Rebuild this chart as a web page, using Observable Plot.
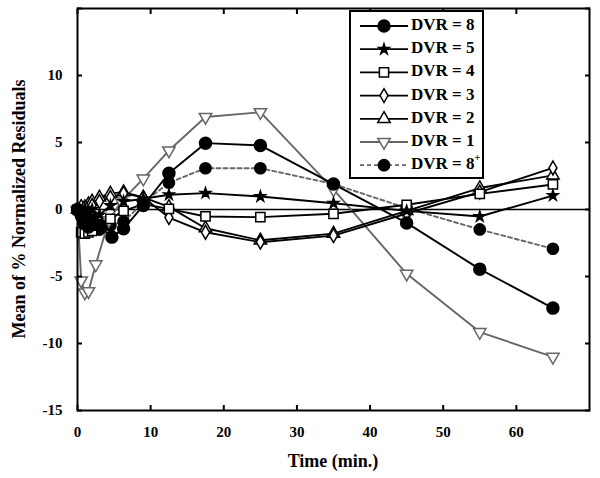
<!DOCTYPE html>
<html><head><meta charset="utf-8">
<script src="https://cdn.jsdelivr.net/npm/d3@7"></script>
<script src="https://cdn.jsdelivr.net/npm/@observablehq/plot@0.6"></script>
<style>body{margin:0;background:#fff;} #chart{width:600px;height:478px;}</style>
</head><body><div id="chart"></div>
<script>
// Data
const time8  = [0,0.5,1,1.5,2,3,4.7,6.3,9,12.5,17.5,25,35,45,55,65];
const dvr8   = [0,-0.4,-1.0,-1.3,-0.8,-1.2,-2.06,-1.44,0.3,2.7,4.95,4.78,1.9,-1.0,-4.45,-7.36];
const timeStd= [0,0.5,1,1.5,2,3,4.5,6.3,9,12.5,17.5,25,35,45,55,65];
const dvr5   = [0,-0.2,0.1,-0.3,0,-0.4,0.3,0.6,0.8,1.1,1.22,0.97,0.47,-0.1,-0.52,1.04];
const dvr4   = [0,-1.7,-1.8,-1.7,-1.6,-1.2,-0.7,-0.1,0.4,0.05,-0.52,-0.57,-0.32,0.35,1.17,1.87];
const dvr3   = [0,-0.3,0.2,-0.5,0.3,0.6,0.9,1.2,0.9,-0.6,-1.7,-2.44,-1.95,-0.3,1.3,3.1];
const dvr2   = [0,0.2,-0.3,0.4,0.6,0.9,1.2,1.3,0.9,0.2,-1.4,-2.3,-1.8,-0.1,1.6,2.55];
const time1  = [0,0.5,1,1.5,2.5,4.3,6,9,12.5,17.5,25,35,45,55,65];
const dvr1   = [0,-5.3,-6.2,-6.1,-4.1,-0.8,0.6,2.3,4.4,6.9,7.26,1.5,-4.8,-9.15,-11.0];
const time8p = [0,0.5,1,1.5,2,3,4.5,6.3,9,12.5,17.5,25,35,45,55,65];
const dvr8p  = [0,-0.5,-0.8,-1.1,-1.0,-1.5,-1.2,-0.9,0.5,2.0,3.08,3.08,1.9,0.1,-1.49,-2.93];

const xTicks = [0,10,20,30,40,50,60];
const yTicks = [-15,-10,-5,0,5,10];
const yTickMarks = [-15,-10,-5,0,5,10,15];

const seriesDefs = [
  {name:"DVR = 8",  sup:"",  t:time8,  v:dvr8,  symbol:"circle",   rotate:0,   fill:"black", stroke:"black", line:"black", dash:null, r:6},
  {name:"DVR = 5",  sup:"",  t:timeStd,v:dvr5,  symbol:"star",     rotate:0,   fill:"black", stroke:"black", line:"black", dash:null, r:3.3},
  {name:"DVR = 4",  sup:"",  t:timeStd,v:dvr4,  symbol:"square",   rotate:0,   fill:"white", stroke:"black", line:"black", dash:null, r:5.2},
  {name:"DVR = 3",  sup:"",  t:timeStd,v:dvr3,  symbol:"diamond",  rotate:0,   fill:"white", stroke:"black", line:"black", dash:null, r:4.2},
  {name:"DVR = 2",  sup:"",  t:timeStd,v:dvr2,  symbol:"triangle", rotate:0,   fill:"white", stroke:"black", line:"black", dash:null, r:4.6},
  {name:"DVR = 1",  sup:"",  t:time1,  v:dvr1,  symbol:"triangle", rotate:180, fill:"white", stroke:"#666", line:"#666", dash:null, r:4.6},
  {name:"DVR = 8",  sup:"+", t:time8p, v:dvr8p, symbol:"circle",   rotate:0,   fill:"black", stroke:"black", line:"#666", dash:"4,3", r:5.6}
];

const rowsOf = s => s.t.map((t,i)=>({time:t, value:s.v[i]}));

const font = "'Liberation Serif', 'Times New Roman', serif";
const marks = [
  Plot.ruleY([0], {stroke:"black", strokeWidth:1.6})
];
[...seriesDefs].reverse().forEach(s => {
  marks.push(Plot.line(rowsOf(s), {x:"time", y:"value", stroke:s.line, strokeWidth:1.9, strokeDasharray:s.dash}));
});
[...seriesDefs].reverse().forEach(s => {
  marks.push(Plot.dot(rowsOf(s), {x:"time", y:"value", symbol:s.symbol, r:s.r, rotate:s.rotate, fill:s.fill, stroke:s.stroke, strokeWidth:1.5}));
});
marks.push(
  Plot.frame({stroke:"black", strokeWidth:2}),
  Plot.axisX({anchor:"bottom", ticks:xTicks, tickSize:0, tickPadding:16, tickFormat:d=>d, fontSize:15, fontWeight:"bold", label:null}),
  Plot.axisX({anchor:"bottom", ticks:xTicks, tickSize:-5, tickFormat:()=>"", label:null, strokeWidth:2}),
  Plot.axisX({anchor:"top", ticks:xTicks, tickSize:-5, tickFormat:()=>"", label:null, strokeWidth:2}),
  Plot.axisY({anchor:"left", ticks:yTicks, tickSize:0, tickPadding:15, tickFormat:d=>d, fontSize:15, fontWeight:"bold", label:null}),
  Plot.axisY({anchor:"left", ticks:yTickMarks, tickSize:-5, tickFormat:()=>"", label:null, strokeWidth:2}),
  Plot.axisY({anchor:"right", ticks:yTickMarks, tickSize:-5, tickFormat:()=>"", label:null, strokeWidth:2})
);

const chart = Plot.plot({
  width:600, height:478,
  marginLeft:77, marginRight:11, marginTop:8, marginBottom:68,
  style:{fontFamily:font, background:"white", color:"black"},
  x:{domain:[0,70]},
  y:{domain:[-15,15]},
  marks
});
document.getElementById("chart").appendChild(chart);

// Axis titles and legend
const svg = d3.select(chart);
svg.append("text").attr("x", 333).attr("y", 463).attr("text-anchor","middle")
  .attr("dominant-baseline","middle")
  .style("font-family",font).style("font-size","18px").style("font-weight","bold").text("Time (min.)");
svg.append("text").attr("transform","translate(21,209) rotate(-90)").attr("text-anchor","middle")
  .attr("dominant-baseline","middle")
  .style("font-family",font).style("font-size","18px").style("font-weight","bold").text("Mean of % Normalized Residuals");

const lg = svg.append("g");
lg.append("rect").attr("x",350).attr("y",11).attr("width",133).attr("height",167)
  .attr("fill","white").attr("stroke","black").attr("stroke-width",2);
const symMap = {circle:d3.symbolCircle, star:d3.symbolStar, square:d3.symbolSquare, diamond:d3.symbolDiamond, triangle:d3.symbolTriangle};
seriesDefs.forEach((s,i) => {
  const y = 26 + i*23.2;
  lg.append("line").attr("x1",360).attr("x2",408).attr("y1",y).attr("y2",y)
    .attr("stroke",s.line).attr("stroke-width",1.8).attr("stroke-dasharray",s.dash);
  lg.append("path").attr("d", d3.symbol(symMap[s.symbol]).size(Math.PI*s.r*s.r)())
    .attr("transform",`translate(384,${y}) rotate(${s.rotate})`)
    .attr("fill",s.fill).attr("stroke",s.stroke).attr("stroke-width",1.5);
  const t = lg.append("text").attr("x",411).attr("y",y).attr("dominant-baseline","middle")
    .attr("text-anchor","start")
    .style("font-family",font).style("font-size","17px").style("font-weight","bold").text(s.name);
  if (s.sup) t.append("tspan").attr("dy",-6).style("font-size","10px").text(s.sup);
});
</script>
</body></html>
